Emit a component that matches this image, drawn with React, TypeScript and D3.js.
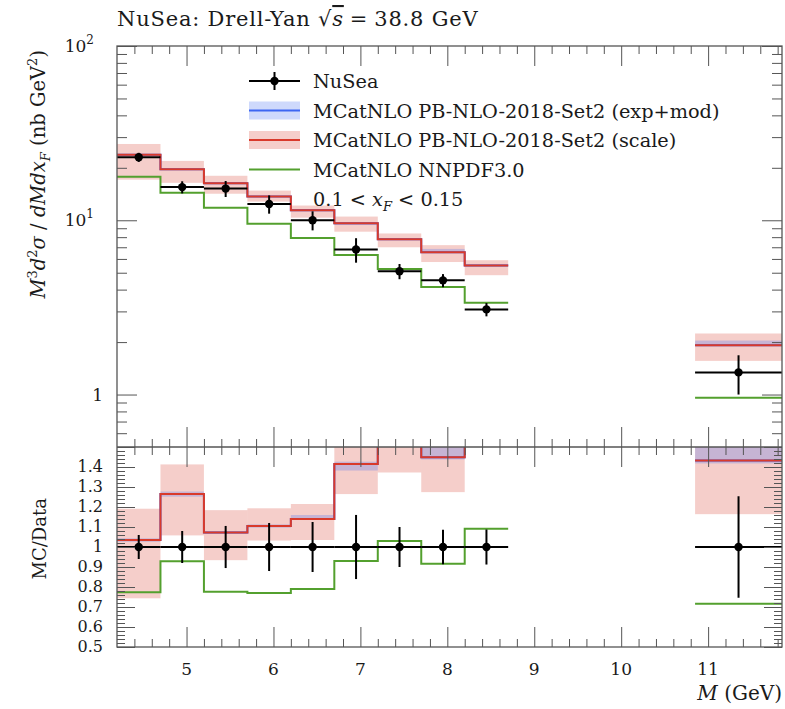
import * as d3 from "d3";
import { useEffect, useRef } from "react";

// bins in M (GeV)
const binLo = [4.2, 4.7, 5.2, 5.7, 6.2, 6.7, 7.2, 7.7, 8.2, 10.85];
const binHi = [4.7, 5.2, 5.7, 6.2, 6.7, 7.2, 7.7, 8.2, 8.7, 11.85];

// M^3 d2sigma/dM dxF (nb GeV^2)
const nusea = [23.0, 15.5, 15.2, 12.4, 10.0, 6.8, 5.1, 4.52, 3.08, 1.34];
const nuseaErr = [1.38, 1.24, 1.6, 1.49, 1.25, 1.09, 0.51, 0.39, 0.27, 0.34];
const pbNlo = [23.8, 19.6, 16.3, 13.7, 11.4, 9.62, 7.78, 6.55, 5.5, 1.92];
const pbExpLo = [23.6, 19.4, 16.2, 13.6, 11.35, 9.4, 7.7, 6.5, 5.45, 1.9];
const pbExpHi = [24.0, 19.8, 16.4, 13.8, 11.6, 9.7, 7.9, 6.85, 5.6, 2.04];
const pbScaleLo = [17.1, 16.4, 14.2, 12.8, 10.35, 8.6, 7.0, 5.76, 4.84, 1.56];
const pbScaleHi = [27.4, 21.9, 18.0, 14.8, 12.15, 10.5, 8.4, 7.2, 5.9, 2.24];
const nnpdf = [17.8, 14.4, 11.8, 9.55, 7.9, 6.32, 5.25, 4.14, 3.36, 0.96];

const xTickLabels = [5, 6, 7, 8, 9, 10, 11];
const ratioLabels = [0.5, 0.6, 0.7, 0.8, 0.9, 1, 1.1, 1.2, 1.3, 1.4];

const W = 785;
const H = 709;
const LEFT = 117;
const RIGHT = 782;
const TOP = 46;
const SPLIT = 447;
const BOTTOM = 647;

const RED = "#d93a2b";
const BLUE = "#3d66f2";
const GREEN = "#53a02e";
const FRAME = "#555";
const INK = "#1a1a1a";
const FONT = "'DejaVu Serif', 'Liberation Serif', serif";

const x = d3.scaleLinear().domain([4.2, 11.85]).range([LEFT, RIGHT]);
const y = d3.scaleLog().domain([0.5, 100]).range([SPLIT, TOP]);
const yr = d3.scaleLinear().domain([0.5, 1.5]).range([BOTTOM, SPLIT]);

export default function App() {
  const gRef = useRef<SVGGElement>(null);

  useEffect(() => {
    const root = d3.select(gRef.current);
    root.selectAll("*").remove();

    const defs = root.append("defs");
    defs.append("clipPath").attr("id", "clipTop").append("rect")
      .attr("x", LEFT).attr("y", TOP).attr("width", RIGHT - LEFT).attr("height", SPLIT - TOP);
    defs.append("clipPath").attr("id", "clipBot").append("rect")
      .attr("x", LEFT).attr("y", SPLIT).attr("width", RIGHT - LEFT).attr("height", BOTTOM - SPLIT);

    // contiguous runs of bins, so step lines break over the gap
    const idx = d3.range(binLo.length);
    const runs: number[][] = [];
    idx.forEach((i) => {
      if (i > 0 && binLo[i] === binHi[i - 1]) runs[runs.length - 1].push(i);
      else runs.push([i]);
    });
    const line = d3.line<[number, number]>().x((p) => p[0]).y((p) => p[1]);

    const panel = (clip: string, ys: any, norm: (i: number) => number) => {
      const g = root.append("g").attr("clip-path", `url(#${clip})`);
      const band = (lo: number[], hi: number[], color: string) =>
        g.append("g").selectAll("rect").data(idx).join("rect")
          .attr("x", (i) => x(binLo[i]))
          .attr("width", (i) => x(binHi[i]) - x(binLo[i]))
          .attr("y", (i) => ys(hi[i] / norm(i)))
          .attr("height", (i) => ys(lo[i] / norm(i)) - ys(hi[i] / norm(i)))
          .attr("fill", color).attr("fill-opacity", 0.25);
      const step = (vals: number[], color: string) =>
        g.append("path")
          .attr("d", runs.map((r) => line(r.flatMap((i) => [
            [x(binLo[i]), ys(vals[i] / norm(i))],
            [x(binHi[i]), ys(vals[i] / norm(i))],
          ] as [number, number][]))).join(""))
          .attr("fill", "none").attr("stroke", color).attr("stroke-width", 2);

      band(pbScaleLo, pbScaleHi, RED);
      band(pbExpLo, pbExpHi, BLUE);
      step(nnpdf, GREEN);
      step(pbNlo, BLUE);
      step(pbNlo, RED);

      // data
      const d = g.append("g").selectAll("g").data(idx).join("g");
      d.append("line")
        .attr("x1", (i) => x(binLo[i])).attr("x2", (i) => x(binHi[i]))
        .attr("y1", (i) => ys(nusea[i] / norm(i))).attr("y2", (i) => ys(nusea[i] / norm(i)))
        .attr("stroke", "#000").attr("stroke-width", 2);
      d.append("line")
        .attr("x1", (i) => x((binLo[i] + binHi[i]) / 2)).attr("x2", (i) => x((binLo[i] + binHi[i]) / 2))
        .attr("y1", (i) => ys((nusea[i] - nuseaErr[i]) / norm(i)))
        .attr("y2", (i) => ys((nusea[i] + nuseaErr[i]) / norm(i)))
        .attr("stroke", "#000").attr("stroke-width", 2);
      d.append("circle")
        .attr("cx", (i) => x((binLo[i] + binHi[i]) / 2))
        .attr("cy", (i) => ys(nusea[i] / norm(i)))
        .attr("r", 4.2).attr("fill", "#000");
    };

    panel("clipTop", y, () => 1);
    panel("clipBot", yr, (i) => nusea[i]);

    // ticks on all four sides, pointing inward
    const ticks = (axis: any, values: number[], size: number, tx: number, ty: number) => {
      root.append("g").attr("transform", `translate(${tx},${ty})`)
        .call(axis.tickValues(values).tickSizeInner(-size).tickSizeOuter(0).tickFormat(() => ""))
        .call((a: any) => a.select(".domain").remove())
        .call((a: any) => a.selectAll("line").attr("stroke", FRAME).attr("stroke-width", 1));
    };
    const xMajor = xTickLabels;
    const xMinor = d3.range(22, 60).filter((k) => k % 5 !== 0).map((k) => k / 5);
    const yMajor = [1, 10, 100];
    const yMinor = [0.6, 0.7, 0.8, 0.9, ...d3.range(2, 10), ...d3.range(20, 100, 10)];
    const rMajor = d3.range(5, 16).map((k) => k / 10);
    const rMinor = d3.range(25, 76).filter((k) => k % 5 !== 0).map((k) => k / 50);

    for (const [top, bot] of [[TOP, SPLIT], [SPLIT, BOTTOM]]) {
      ticks(d3.axisTop(x), xMajor, 20, 0, top);
      ticks(d3.axisTop(x), xMinor, 8, 0, top);
      ticks(d3.axisBottom(x), xMajor, 20, 0, bot);
      ticks(d3.axisBottom(x), xMinor, 8, 0, bot);
    }
    ticks(d3.axisLeft(y), yMajor, 20, LEFT, 0);
    ticks(d3.axisLeft(y), yMinor, 10, LEFT, 0);
    ticks(d3.axisRight(y), yMajor, 20, RIGHT, 0);
    ticks(d3.axisRight(y), yMinor, 10, RIGHT, 0);
    ticks(d3.axisLeft(yr), rMajor, 18, LEFT, 0);
    ticks(d3.axisLeft(yr), rMinor, 8, LEFT, 0);
    ticks(d3.axisRight(yr), rMajor, 18, RIGHT, 0);
    ticks(d3.axisRight(yr), rMinor, 8, RIGHT, 0);

    root.append("rect")
      .attr("x", LEFT).attr("y", TOP).attr("width", RIGHT - LEFT).attr("height", BOTTOM - TOP)
      .attr("fill", "none").attr("stroke", FRAME).attr("stroke-width", 1.3);
    root.append("line")
      .attr("x1", LEFT).attr("x2", RIGHT).attr("y1", SPLIT).attr("y2", SPLIT)
      .attr("stroke", FRAME).attr("stroke-width", 1.3);
  }, []);

  const legendX = 249;
  const legendTextX = 313;
  const rowY = (k: number) => 88 + k * 29.5;

  return (
    <svg width={W} height={H} style={{ position: "absolute", left: 0, top: 0, background: "#fff" }}
      fontFamily={FONT}>
      <g ref={gRef} />

      <text x={LEFT} y={26} fontSize={21} fill={INK} letterSpacing={0.8}>
        NuSea: Drell-Yan <tspan>√</tspan><tspan fontStyle="italic" textDecoration="overline">s</tspan>
        <tspan dx={6}>=</tspan><tspan dx={6}>38.8 GeV</tspan>
      </text>

      {/* top y labels */}
      <g fontSize={17} fill={INK} textAnchor="end">
        <text x={94} y={y(100) + 6}>10<tspan dy={-8} fontSize={12}>2</tspan></text>
        <text x={94} y={y(10) + 6}>10<tspan dy={-8} fontSize={12}>1</tspan></text>
        <text x={103} y={y(1) + 6}>1</text>
      </g>
      <text transform={`translate(45,50) rotate(-90)`} textAnchor="end" fontSize={19.5} fill={INK}>
        <tspan fontStyle="italic">M</tspan><tspan dy={-8} fontSize={13}>3</tspan>
        <tspan dy={8} fontStyle="italic">d</tspan><tspan dy={-8} fontSize={13}>2</tspan>
        <tspan dy={8} fontStyle="italic">σ</tspan> / <tspan fontStyle="italic">dMdx</tspan>
        <tspan dy={5} fontSize={13} fontStyle="italic">F</tspan>
        <tspan dy={-5}> (nb GeV</tspan><tspan dy={-8} fontSize={13}>2</tspan><tspan dy={8}>)</tspan>
      </text>

      {/* ratio labels */}
      <g fontSize={16} fill={INK} textAnchor="end">
        {ratioLabels.map((v) => (
          <text key={v} x={103} y={yr(v) + 5}>{v}</text>
        ))}
      </g>
      <text transform={`translate(46,498) rotate(-90)`} textAnchor="end" fontSize={18} fill={INK}>MC/Data</text>

      {/* x labels */}
      <g fontSize={17} fill={INK} textAnchor="middle">
        {xTickLabels.map((v) => (
          <text key={v} x={x(v)} y={675}>{v}</text>
        ))}
      </g>
      <text x={RIGHT} y={700} textAnchor="end" fontSize={20} fill={INK}>
        <tspan fontStyle="italic">M</tspan> (GeV)
      </text>

      {/* legend */}
      <g fontSize={19.3} fill={INK}>
        <line x1={legendX} x2={legendX + 51} y1={rowY(0) - 7} y2={rowY(0) - 7} stroke="#000" strokeWidth={2} />
        <line x1={legendX + 25.5} x2={legendX + 25.5} y1={rowY(0) - 16} y2={rowY(0) + 2} stroke="#000" strokeWidth={2} />
        <circle cx={legendX + 25.5} cy={rowY(0) - 7} r={4.2} fill="#000" />
        <text x={legendTextX} y={rowY(0)}>NuSea</text>

        <rect x={legendX} y={rowY(1) - 16} width={51} height={18} fill={BLUE} fillOpacity={0.25} />
        <line x1={legendX} x2={legendX + 51} y1={rowY(1) - 7} y2={rowY(1) - 7} stroke={BLUE} strokeWidth={2} />
        <text x={legendTextX} y={rowY(1)}>MCatNLO PB-NLO-2018-Set2 (exp+mod)</text>

        <rect x={legendX} y={rowY(2) - 16} width={51} height={18} fill={RED} fillOpacity={0.25} />
        <line x1={legendX} x2={legendX + 51} y1={rowY(2) - 7} y2={rowY(2) - 7} stroke={RED} strokeWidth={2} />
        <text x={legendTextX} y={rowY(2)}>MCatNLO PB-NLO-2018-Set2 (scale)</text>

        <line x1={legendX} x2={legendX + 51} y1={rowY(3) - 7} y2={rowY(3) - 7} stroke={GREEN} strokeWidth={2} />
        <text x={legendTextX} y={rowY(3)}>MCatNLO NNPDF3.0</text>

        <text x={legendTextX} y={rowY(4)}>
          0.1 &lt; <tspan fontStyle="italic">x</tspan><tspan dy={5} fontSize={13} fontStyle="italic">F</tspan>
          <tspan dy={-5}> &lt; 0.15</tspan>
        </text>
      </g>
    </svg>
  );
}
